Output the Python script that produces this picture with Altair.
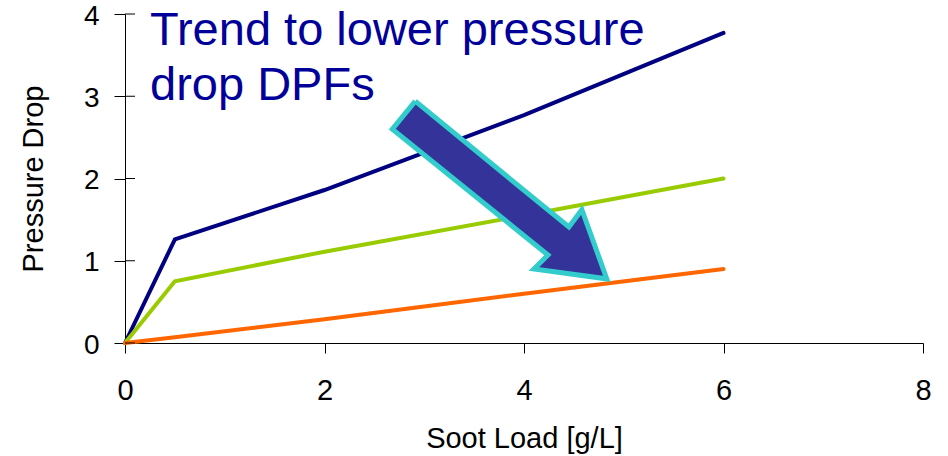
import altair as alt
import pandas as pd

# Soot load [g/L] vs. pressure drop for three DPF generations
soot_high = [0, 0.5, 2, 4, 6]
drop_high = [0, 1.26, 1.86, 2.77, 3.77]

soot_mid = [0, 0.5, 2, 4, 6]
drop_mid = [0, 0.75, 1.11, 1.55, 2.0]

soot_low = [0, 0.5, 2, 4, 6]
drop_low = [0, 0.07, 0.29, 0.6, 0.9]

series_names = ["High", "Medium", "Low"]
series_colors = ["#000080", "#99CC00", "#FF6600"]

# Block-arrow outline (data units), drawn as a closed filled path
arrow_x = [2.91, 4.45, 4.58, 4.83, 4.10, 4.24, 2.68, 2.91]
arrow_y = [2.94, 1.41, 1.62, 0.78, 0.90, 1.07, 2.60, 2.94]

y_ticks = [0, 1, 2, 3, 4]
annotation = "Trend to lower pressure\ndrop DPFs"

rows = []
for name, xs, ys in zip(series_names, [soot_high, soot_mid, soot_low],
                        [drop_high, drop_mid, drop_low]):
    for x, y in zip(xs, ys):
        rows.append({"series": name, "soot": x, "drop": y})
lines_df = pd.DataFrame(rows)

arrow_df = pd.DataFrame({"soot": arrow_x, "drop": arrow_y,
                         "k": list(range(len(arrow_x)))})
ticks_df = pd.DataFrame({"drop": y_ticks})
note_df = pd.DataFrame({"t": [annotation]})

FONT = "Liberation Sans"

x_scale = alt.Scale(domain=[0, 8], nice=False, zero=True)
y_scale = alt.Scale(domain=[0, 4], nice=False, zero=True)

x_axis = alt.Axis(
    values=[0, 2, 4, 6, 8], format="d", grid=False, labelFlush=False,
    domainColor="black", tickColor="black", tickSize=10,
    labelFont=FONT, labelFontSize=29, labelColor="black", labelPadding=23,
    title="Soot Load [g/L]", titleFont=FONT, titleFontSize=29,
    titleFontWeight="normal", titleColor="black",
    titleBaseline="alphabetic", titleY=104,
)
y_axis = alt.Axis(
    values=y_ticks, format="d", grid=False, labelFlush=False,
    domainColor="black", tickColor="black", tickSize=11,
    labelFont=FONT, labelFontSize=28, labelColor="black", labelPadding=15,
    labelBaseline="alphabetic", labelOffset=10,
    title="Pressure Drop", titleFont=FONT, titleFontSize=29,
    titleFontWeight="normal", titleColor="black",
    titleBaseline="alphabetic", titleX=-83, titleY=164.5, titleAngle=-90,
)

lines = alt.Chart(lines_df).mark_line(strokeWidth=4, strokeCap="round").encode(
    x=alt.X("soot:Q", scale=x_scale, axis=x_axis),
    y=alt.Y("drop:Q", scale=y_scale, axis=y_axis),
    color=alt.Color("series:N",
                    scale=alt.Scale(domain=series_names, range=series_colors),
                    legend=None),
    order=alt.Order("soot:Q"),
)

arrow = alt.Chart(arrow_df).mark_line(
    fill="#333399", stroke="#33CCCC", strokeWidth=5, strokeJoin="miter",
).encode(
    x=alt.X("soot:Q", scale=x_scale),
    y=alt.Y("drop:Q", scale=y_scale),
    order=alt.Order("k:Q"),
)

# inner half of the crossing y-axis ticks
inner_ticks = alt.Chart(ticks_df).mark_rule(color="black", strokeWidth=1).encode(
    y=alt.Y("drop:Q", scale=y_scale),
    x=alt.value(0),
    x2=alt.value(10),
)

note = alt.Chart(note_df).mark_text(
    font=FONT, fontSize=47, color="#000099", align="left",
    baseline="alphabetic", lineBreak="\n", lineHeight=55,
).encode(
    text="t:N",
    x=alt.value(25),
    y=alt.value(31),
)

chart = alt.layer(lines, inner_ticks, arrow, note).properties(
    width=798, height=329,
    autosize=alt.AutoSizeParams(type="none"),
    padding={"left": 125, "top": 14, "right": 25, "bottom": 113},
    background="white",
).configure_view(stroke=None)

chart.save("out.html", embed_options={"renderer": "svg", "actions": False})
